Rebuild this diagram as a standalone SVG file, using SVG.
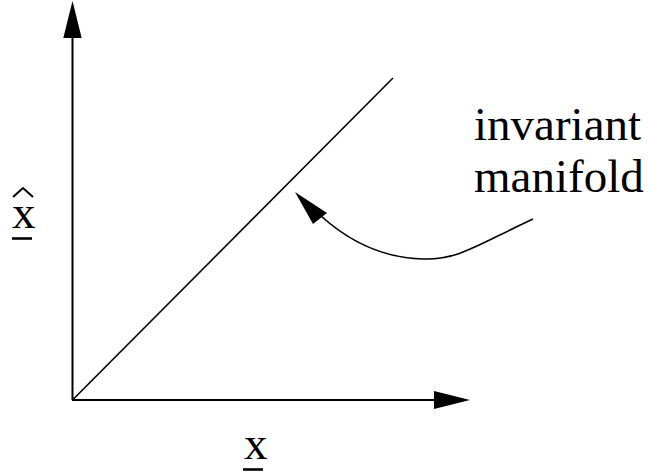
<svg xmlns="http://www.w3.org/2000/svg" width="650" height="476" viewBox="0 0 650 476">
<style>
.ln{fill:none;stroke:#000;stroke-linecap:butt}
text{font-family:'Liberation Serif','Times New Roman',Times,serif;font-size:47px;fill:#000}
.head{fill:#000;stroke:none}
</style>
<rect width="650" height="476" fill="#fff"/>
<g id="connectors">
<line class="ln" x1="72.5" y1="400" x2="72.5" y2="36" stroke-width="2"/>
<polygon class="head" points="72.5,1 81.7,38 63.3,38"/>
<line class="ln" x1="72" y1="400" x2="436" y2="400" stroke-width="2"/>
<polygon class="head" points="470,400 434,409 434,391"/>
<line class="ln" x1="72.5" y1="400" x2="393" y2="78" stroke-width="1.6"/>
<path class="ln" d="M533,219 C475,246 458,260 423,259 C385,258 352,244 321,216" stroke-width="1.6"/>
<polygon class="head" points="295,192 327,213 313,224"/>
</g>
<g id="label-xhat">
<polyline class="ln" points="13,197 23,188 33,197" stroke-width="2"/>
<text font-family="Liberation Serif, serif" x="12" y="228">x</text>
<line class="ln" x1="12" y1="238.5" x2="32" y2="238.5" stroke-width="2.6"/>
</g>
<g id="label-x">
<text font-family="Liberation Serif, serif" x="244" y="459">x</text>
<line class="ln" x1="243" y1="469.5" x2="263" y2="469.5" stroke-width="2.6"/>
</g>
<g id="label-manifold">
<text font-family="Liberation Serif, serif" x="474" y="140">invariant</text>
<text font-family="Liberation Serif, serif" x="474" y="192">manifold</text>
</g>
</svg>
